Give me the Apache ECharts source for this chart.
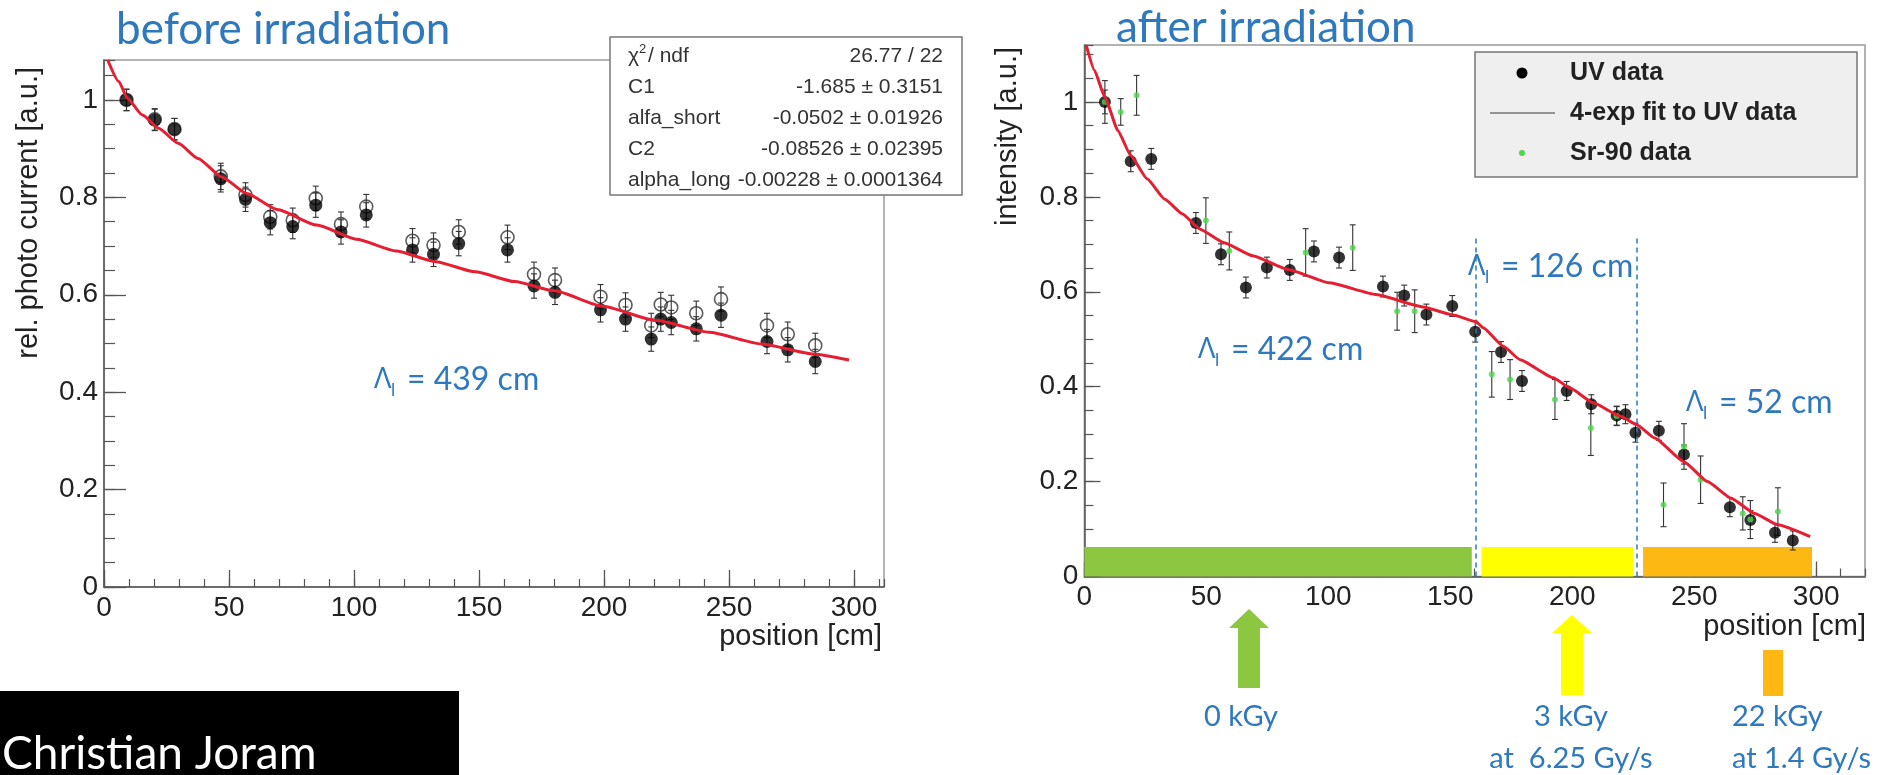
<!DOCTYPE html>
<html>
<head>
<meta charset="utf-8">
<title>Attenuation length before and after irradiation</title>
<script src="https://cdn.jsdelivr.net/npm/echarts@6/dist/echarts.min.js"></script>
<style>
  html, body { margin: 0; padding: 0; background: #ffffff; }
  #main { width: 1898px; height: 775px; }
</style>
</head>
<body>
<div id="main"></div>
<script>
// ---------- left panel: before irradiation ----------
const beforePos    = [9.0, 20.3, 28.2, 46.7, 56.6, 66.5, 75.5, 84.7, 94.8, 104.9, 123.4, 131.8, 141.9, 161.4, 172.0, 180.4, 198.6, 208.6, 218.9, 222.7, 226.9, 236.9, 246.8, 265.2, 273.5, 284.5];
const beforeFilled = [1.000, 0.959, 0.940, 0.838, 0.796, 0.748, 0.740, 0.784, 0.729, 0.764, 0.692, 0.683, 0.705, 0.692, 0.618, 0.605, 0.569, 0.550, 0.509, 0.550, 0.543, 0.530, 0.558, 0.504, 0.487, 0.463];
const beforeOpen   = [1.000, 0.960, 0.940, 0.843, 0.805, 0.760, 0.753, 0.798, 0.745, 0.781, 0.711, 0.702, 0.729, 0.718, 0.642, 0.630, 0.596, 0.579, 0.537, 0.580, 0.574, 0.562, 0.591, 0.537, 0.519, 0.496];
const beforeErr    = [0.022, 0.022, 0.022, 0.027, 0.025, 0.025, 0.025, 0.025, 0.025, 0.025, 0.025, 0.025, 0.025, 0.025, 0.025, 0.025, 0.025, 0.025, 0.025, 0.025, 0.025, 0.025, 0.025, 0.025, 0.025, 0.025];
const beforeFitPos = [1.5, 5.9, 9.4, 15.4, 21.8, 29.7, 37.6, 47.1, 57.1, 69.3, 85.1, 101.0, 116.8, 132.6, 148.5, 164.3, 180.2, 199.0, 221.0, 242.0, 263.0, 284.0, 298.0];
const beforeFitVal = [1.082, 1.038, 1.003, 0.969, 0.942, 0.911, 0.880, 0.842, 0.808, 0.775, 0.743, 0.714, 0.690, 0.668, 0.647, 0.627, 0.608, 0.577, 0.547, 0.523, 0.499, 0.478, 0.466];

// fit results shown in the statistics box
const statRows = [
  ['C1', '-1.685 \u00b1 0.3151'],
  ['alfa_short', '-0.0502 \u00b1 0.01926'],
  ['C2', '-0.08526 \u00b1 0.02395'],
  ['alpha_long', '-0.00228 \u00b1 0.0001364']
];
const chi2Text = '26.77 / 22';

// ---------- right panel: after irradiation ----------
const uvPos = [8.4, 19.0, 27.4, 45.7, 56.0, 66.2, 74.8, 84.2, 94.1, 104.4, 122.4, 131.1, 140.2, 150.8, 160.2, 170.8, 179.4, 197.7, 207.8, 218.2, 221.8, 225.9, 235.5, 245.8, 264.6, 273.0, 283.1, 290.4];
const uvVal = [1.000, 0.875, 0.880, 0.745, 0.679, 0.609, 0.651, 0.646, 0.685, 0.672, 0.611, 0.592, 0.552, 0.570, 0.516, 0.473, 0.412, 0.391, 0.363, 0.339, 0.342, 0.303, 0.307, 0.257, 0.146, 0.119, 0.092, 0.076];
const uvErr = [0.025, 0.022, 0.022, 0.022, 0.022, 0.022, 0.022, 0.022, 0.022, 0.022, 0.022, 0.022, 0.022, 0.022, 0.022, 0.022, 0.022, 0.020, 0.020, 0.020, 0.020, 0.020, 0.020, 0.020, 0.020, 0.020, 0.020, 0.020];

const srPos = [8.4, 14.9, 21.4, 49.8, 59.4, 90.7, 110.0, 128.2, 135.4, 167.0, 174.5, 192.9, 207.6, 218.2, 237.4, 245.8, 252.6, 269.9, 273.0, 284.3];
const srVal = [1.000, 0.979, 1.014, 0.750, 0.686, 0.683, 0.693, 0.559, 0.559, 0.426, 0.415, 0.373, 0.313, 0.338, 0.151, 0.274, 0.204, 0.133, 0.120, 0.137];
const srErr = [0.045, 0.028, 0.042, 0.048, 0.040, 0.050, 0.048, 0.040, 0.045, 0.048, 0.042, 0.042, 0.058, 0.020, 0.046, 0.048, 0.050, 0.035, 0.040, 0.050];

const afterFitPos = [0.7, 4.1, 8.4, 13.7, 19.0, 25.7, 33.0, 40.2, 47.4, 57.0, 69.0, 83.5, 100.3, 119.6, 138.8, 151.2, 160.5, 163.5, 171.7, 178.6, 192.2, 199.1, 208.6, 219.6, 226.4, 233.8, 245.8, 255.4, 265.1, 274.7, 284.3, 297.5];
const afterFitVal = [1.120, 1.067, 1.010, 0.940, 0.887, 0.838, 0.795, 0.764, 0.732, 0.704, 0.676, 0.647, 0.619, 0.594, 0.568, 0.551, 0.537, 0.524, 0.485, 0.457, 0.419, 0.397, 0.366, 0.338, 0.320, 0.292, 0.242, 0.200, 0.165, 0.133, 0.109, 0.084];

// irradiation zones along the fibre (cm) and zone boundaries
const zoneStart = [0, 162.8, 229.0];
const zoneEnd   = [158.8, 225.0, 298.3];
const zoneTop   = 0.062;
const boundaryPos = [160.5, 226.5];
const boundaryTop = 0.72;

// axis ticks
const xTicks = [0, 50, 100, 150, 200, 250, 300];
const yTicks = [0, 0.2, 0.4, 0.6, 0.8, 1];

// ---------- styling ----------
const BLUE = '#2E78BE';
const RED = '#E61E32';
const AXIS = '#555555';
const FRAME = '#9a9a9a';
const SR_GREEN = '#4CD64C';
const ZONE_COLORS = ['#8DC641', '#FFFF00', '#FDB813'];
const AXIS_FONT = 'Liberation Sans';
const SLIDE_FONT = 'Lato';

const zip = (xs, ys) => xs.map((x, i) => [x, ys[i]]);
const errRows = (xs, ys, es) => xs.map((x, i) => [x, ys[i] - es[i], ys[i] + es[i]]);

function errorBarSeries(name, xi, yi, rows, z) {
  return {
    name, type: 'custom', xAxisIndex: xi, yAxisIndex: yi, z, silent: true,
    encode: { x: 0, y: [1, 2] },
    data: rows,
    renderItem(params, api) {
      const x = api.value(0);
      const lo = api.coord([x, api.value(1)]);
      const hi = api.coord([x, api.value(2)]);
      const st = { stroke: '#333', lineWidth: 1.1 };
      return {
        type: 'group',
        children: [
          { type: 'line', shape: { x1: lo[0], y1: lo[1], x2: hi[0], y2: hi[1] }, style: st },
          { type: 'line', shape: { x1: lo[0] - 3, y1: lo[1], x2: lo[0] + 3, y2: lo[1] }, style: st },
          { type: 'line', shape: { x1: hi[0] - 3, y1: hi[1], x2: hi[0] + 3, y2: hi[1] }, style: st }
        ]
      };
    }
  };
}

function majorX(grid, max, tickLen) {
  return {
    type: 'value', gridIndex: grid, position: 'bottom', min: 0, max, interval: 50,
    axisLine: { show: true, onZero: false, lineStyle: { color: AXIS, width: 1.5 } },
    axisTick: { show: true, inside: true, length: tickLen, customValues: xTicks, lineStyle: { color: AXIS, width: 1.3 } },
    axisLabel: { show: true, margin: 7, color: '#222', fontSize: 28, fontFamily: AXIS_FONT, customValues: xTicks },
    splitLine: { show: false }
  };
}
function minorX(grid, max, tickLen) {
  return {
    type: 'value', gridIndex: grid, position: 'bottom', min: 0, max, interval: 10,
    axisLine: { show: false, onZero: false },
    axisTick: { show: true, inside: true, length: tickLen, lineStyle: { color: AXIS, width: 1.2 } },
    axisLabel: { show: false }, splitLine: { show: false }
  };
}
function majorY(grid, max, tickLen) {
  return {
    type: 'value', gridIndex: grid, position: 'left', min: 0, max, interval: 0.2,
    axisLine: { show: true, onZero: false, lineStyle: { color: AXIS, width: 1.5 } },
    axisTick: { show: true, inside: true, length: tickLen, customValues: yTicks, lineStyle: { color: AXIS, width: 1.3 } },
    axisLabel: { show: true, margin: 6, color: '#222', fontSize: 28, fontFamily: AXIS_FONT, customValues: yTicks },
    splitLine: { show: false }
  };
}
function minorY(grid, max, tickLen) {
  return {
    type: 'value', gridIndex: grid, position: 'left', min: 0, max, interval: 0.05,
    axisLine: { show: false, onZero: false },
    axisTick: { show: true, inside: true, length: tickLen, lineStyle: { color: AXIS, width: 1.2 } },
    axisLabel: { show: false }, splitLine: { show: false }
  };
}

function txt(x, y, text, o) {
  o = o || {};
  const align = o.align || 'left';
  const valign = o.valign || 'middle';
  return {
    type: 'text', x, y, rotation: o.rotation || 0, z: 100, silent: true,
    style: {
      text, fill: o.color || '#222',
      fontSize: o.size || 20, fontFamily: o.family || AXIS_FONT, fontWeight: o.weight || 'normal',
      align, verticalAlign: valign, textAlign: align, textVerticalAlign: valign
    }
  };
}

// "Λ_l = N cm" annotation
function lambda(x, y, value) {
  return [
    txt(x, y, '\u039b', { size: 29, family: 'Open Sans', color: BLUE }),
    txt(x + 17, y + 10, 'l', { size: 18, family: SLIDE_FONT, color: BLUE }),
    txt(x + 33, y, '= ' + value + ' cm', { size: 32, family: SLIDE_FONT, color: BLUE })
  ];
}

const graphics = [];

// panel titles
graphics.push(txt(116, 30, 'before irradiation', { size: 44, family: SLIDE_FONT, color: BLUE }));
graphics.push(txt(1116, 28, 'after irradiation', { size: 44, family: SLIDE_FONT, color: BLUE }));

// axis titles
graphics.push(txt(29, 67, 'rel. photo current [a.u.]', { size: 29, align: 'right', rotation: Math.PI / 2 }));
graphics.push(txt(1008, 47, 'intensity [a.u.]', { size: 29, align: 'right', rotation: Math.PI / 2 }));
graphics.push(txt(882, 637, 'position [cm]', { size: 29, align: 'right' }));
graphics.push(txt(1866, 627, 'position [cm]', { size: 29, align: 'right' }));

// attenuation lengths
graphics.push(...lambda(374, 380, 439));
graphics.push(...lambda(1198, 350, 422));
graphics.push(...lambda(1468, 267, 126));
graphics.push(...lambda(1686, 403, 52));

// statistics box of the left fit
graphics.push({ type: 'rect', z: 90, silent: true, shape: { x: 610, y: 37, width: 352, height: 158 },
  style: { fill: '#ffffff', stroke: '#777777', lineWidth: 1.5 } });
graphics.push(txt(628, 56, '\u03c7', { size: 21, color: '#333' }));
graphics.push(txt(639, 49, '2', { size: 13, color: '#333' }));
graphics.push(txt(648, 56, '/ ndf', { size: 21, color: '#333' }));
graphics.push(txt(943, 56, chi2Text, { size: 21, color: '#333', align: 'right' }));
statRows.forEach((r, i) => {
  const y = 87 + i * 31;
  graphics.push(txt(628, y, r[0], { size: 21, color: '#333' }));
  graphics.push(txt(943, y, r[1], { size: 21, color: '#333', align: 'right' }));
});

// legend of the right panel
graphics.push({ type: 'rect', z: 90, silent: true, shape: { x: 1475, y: 52, width: 382, height: 125 },
  style: { fill: '#efefef', stroke: '#777777', lineWidth: 1.5 } });
graphics.push({ type: 'circle', z: 100, silent: true, shape: { cx: 1522, cy: 73, r: 5.5 }, style: { fill: '#000' } });
graphics.push(txt(1570, 73, 'UV data', { size: 25, weight: 'bold' }));
graphics.push({ type: 'line', z: 100, silent: true, shape: { x1: 1490, y1: 113, x2: 1555, y2: 113 }, style: { stroke: '#777', lineWidth: 1.5 } });
graphics.push(txt(1570, 113, '4-exp fit to UV data', { size: 25, weight: 'bold' }));
graphics.push({ type: 'circle', z: 100, silent: true, shape: { cx: 1522, cy: 153, r: 3 }, style: { fill: SR_GREEN } });
graphics.push(txt(1570, 153, 'Sr-90 data', { size: 25, weight: 'bold' }));

// dose arrows and labels under the right panel
graphics.push({ type: 'polygon', z: 90, silent: true, style: { fill: ZONE_COLORS[0] },
  shape: { points: [[1249, 609], [1269, 628], [1260, 628], [1260, 688], [1238, 688], [1238, 628], [1229, 628]] } });
graphics.push({ type: 'polygon', z: 90, silent: true, style: { fill: ZONE_COLORS[1] },
  shape: { points: [[1572, 615], [1592, 633], [1583, 633], [1583, 695], [1561, 695], [1561, 633], [1552, 633]] } });
graphics.push({ type: 'rect', z: 90, silent: true, shape: { x: 1763, y: 650, width: 20, height: 46 }, style: { fill: ZONE_COLORS[2] } });
graphics.push(txt(1241, 717, '0 kGy', { size: 29, family: SLIDE_FONT, color: BLUE, align: 'center' }));
graphics.push(txt(1571, 717, '3 kGy', { size: 29, family: SLIDE_FONT, color: BLUE, align: 'center' }));
graphics.push(txt(1571, 759, 'at  6.25 Gy/s', { size: 29, family: SLIDE_FONT, color: BLUE, align: 'center' }));
graphics.push(txt(1732, 717, '22 kGy', { size: 29, family: SLIDE_FONT, color: BLUE }));
graphics.push(txt(1732, 759, 'at 1.4 Gy/s', { size: 29, family: SLIDE_FONT, color: BLUE }));

// author tag
graphics.push({ type: 'rect', z: 90, silent: true, shape: { x: 0, y: 691, width: 459, height: 84 }, style: { fill: '#000' } });
graphics.push(txt(2, 754, 'Christian Joram', { size: 46, family: SLIDE_FONT, color: '#ffffff' }));

const option = {
  animation: false,
  backgroundColor: '#ffffff',
  grid: [
    { left: 104, top: 60, width: 780, height: 527, show: true, borderColor: FRAME, borderWidth: 1.5, backgroundColor: 'transparent', outerBoundsMode: 'none', containLabel: false },
    { left: 1084.4, top: 45, width: 780.6, height: 531.5, show: true, borderColor: FRAME, borderWidth: 1.5, backgroundColor: 'transparent', outerBoundsMode: 'none', containLabel: false }
  ],
  xAxis: [majorX(0, 312, 17), minorX(0, 312, 8), majorX(1, 320, 15), minorX(1, 320, 8)],
  yAxis: [majorY(0, 1.082, 22), minorY(0, 1.082, 11), majorY(1, 1.12, 16), minorY(1, 1.12, 9)],
  series: [
    errorBarSeries('open error', 0, 0, errRows(beforePos, beforeOpen, beforeErr), 2),
    errorBarSeries('filled error', 0, 0, errRows(beforePos, beforeFilled, beforeErr), 2),
    {
      name: 'before open', type: 'scatter', xAxisIndex: 0, yAxisIndex: 0, z: 3, silent: true,
      symbol: 'circle', symbolSize: 13,
      itemStyle: { color: 'rgba(0,0,0,0)', borderColor: '#333', borderWidth: 1.6 },
      data: zip(beforePos, beforeOpen)
    },
    {
      name: 'before filled', type: 'scatter', xAxisIndex: 0, yAxisIndex: 0, z: 4, silent: true,
      symbol: 'circle', symbolSize: 13, itemStyle: { color: '#000' },
      data: zip(beforePos, beforeFilled)
    },
    {
      name: 'before fit', type: 'line', xAxisIndex: 0, yAxisIndex: 0, z: 5, silent: true,
      showSymbol: false, smooth: 0.2, smoothMonotone: 'x',
      lineStyle: { color: RED, width: 3 },
      data: zip(beforeFitPos, beforeFitVal)
    },
    {
      name: 'zones', type: 'scatter', xAxisIndex: 2, yAxisIndex: 2, z: 1, silent: true, data: [],
      markArea: {
        silent: true,
        data: zoneStart.map((s, i) => [
          { xAxis: s, yAxis: 0, itemStyle: { color: ZONE_COLORS[i], opacity: 1 } },
          { xAxis: zoneEnd[i], yAxis: zoneTop }
        ])
      },
      markLine: {
        silent: true, symbol: ['none', 'none'], label: { show: false },
        lineStyle: { color: BLUE, type: [5, 4], width: 1.5 },
        data: boundaryPos.map(p => [{ coord: [p, 0] }, { coord: [p, boundaryTop] }])
      }
    },
    errorBarSeries('uv error', 2, 2, errRows(uvPos, uvVal, uvErr), 2),
    errorBarSeries('sr error', 2, 2, errRows(srPos, srVal, srErr), 2),
    {
      name: 'UV data', type: 'scatter', xAxisIndex: 2, yAxisIndex: 2, z: 3, silent: true,
      symbol: 'circle', symbolSize: 12, itemStyle: { color: '#000' },
      data: zip(uvPos, uvVal)
    },
    {
      name: 'Sr-90 data', type: 'scatter', xAxisIndex: 2, yAxisIndex: 2, z: 4, silent: true,
      symbol: 'circle', symbolSize: 6, itemStyle: { color: SR_GREEN },
      data: zip(srPos, srVal)
    },
    {
      name: '4-exp fit to UV data', type: 'line', xAxisIndex: 2, yAxisIndex: 2, z: 5, silent: true,
      showSymbol: false, smooth: 0.15, smoothMonotone: 'x',
      lineStyle: { color: RED, width: 3 },
      data: zip(afterFitPos, afterFitVal)
    }
  ],
  graphic: { elements: graphics }
};

const chart = echarts.init(document.getElementById('main'), null, { renderer: 'canvas', width: 1898, height: 775 });
chart.setOption(option);
</script>
</body>
</html>
